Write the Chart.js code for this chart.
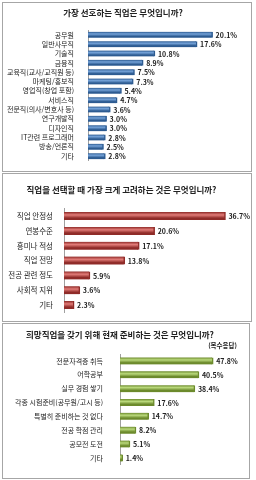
<!DOCTYPE html>
<html lang="ko">
<head>
<meta charset="UTF-8">
<title>직업 설문</title>
<script src="https://cdn.jsdelivr.net/npm/chart.js@4.4.1/dist/chart.umd.min.js"></script>
<style>
body {margin:0; background:#fff; width:256px; height:480px; position:relative; overflow:hidden;
  font-family:"Noto Sans CJK KR", sans-serif;}
.panel {position:absolute; border:1px solid #a6a6a6; background:#fff;}
.panel canvas {display:block;}
</style>
</head>
<body>

<div class="panel" style="left:2px;top:2px;width:248px;height:168px"><canvas id="chartJob" width="248" height="168"></canvas></div>
<div class="panel" style="left:2px;top:173px;width:248px;height:147px"><canvas id="chartFactor" width="248" height="147"></canvas></div>
<div class="panel" style="left:2px;top:323px;width:246px;height:154px"><canvas id="chartPrep" width="246" height="154"></canvas></div>

<script>
// data
var jobLabels = ["공무원", "일반사무직", "기술직", "금융직", "교육직(교사/교직원 등)", "마케팅/홍보직",
  "영업직(창업 포함)", "서비스직", "전문직(의사/변호사 등)", "연구개발직", "디자인직", "IT관련 프로그래머",
  "방송/언론직", "기타"];
var jobValues = [20.1, 17.6, 10.8, 8.9, 7.5, 7.3, 5.4, 4.7, 3.6, 3.0, 3.0, 2.8, 2.5, 2.8];

var factorLabels = ["직업 안정성", "연봉수준", "흥미나 적성", "직업 전망", "전공 관련 정도", "사회적 지위", "기타"];
var factorValues = [36.7, 20.6, 17.1, 13.8, 5.9, 3.6, 2.3];

var prepLabels = ["전문자격증 취득", "어학공부", "실무 경험 쌓기", "각종 시험준비(공무원/고시 등)",
  "특별히 준비하는 것 없다", "전공 학점 관리", "공모전 도전", "기타"];
var prepValues = [47.8, 40.5, 38.4, 17.6, 14.7, 8.2, 5.1, 1.4];

var FONT = "'Noto Sans CJK KR', sans-serif";

// cylinder look: vertical gradient across each bar
function cylinder(dark, light, thick) {
  return function(ctx) {
    var c = ctx.chart;
    var y = c.scales && c.scales.y;
    if (!c.chartArea || !y) return light;
    var p = y.getPixelForValue(ctx.dataIndex);
    var g = c.ctx.createLinearGradient(0, p - thick / 2, 0, p + thick / 2);
    g.addColorStop(0, dark);
    g.addColorStop(0.35, light);
    g.addColorStop(0.75, dark);
    g.addColorStop(1, dark);
    return g;
  };
}

// percent labels at the end of each bar
var valueLabels = {
  id: "valueLabels",
  afterDatasetsDraw: function(chart) {
    var ctx = chart.ctx;
    var meta = chart.getDatasetMeta(0);
    var data = chart.data.datasets[0].data;
    ctx.save();
    ctx.font = "bold 7px " + FONT;
    ctx.fillStyle = "#222";
    ctx.textAlign = "left";
    ctx.textBaseline = "middle";
    meta.data.forEach(function(bar, i) {
      ctx.fillText(data[i].toFixed(1) + "%", bar.x + 3, bar.y + 0.5);
    });
    ctx.restore();
  }
};

function makeChart(id, labels, values, o) {
  return new Chart(id, {
    type: "bar",
    data: {
      labels: labels,
      datasets: [{
        data: values,
        backgroundColor: cylinder(o.dark, o.light, o.thick),
        borderColor: o.dark,
        borderWidth: {top: 0, bottom: 0, left: 0, right: 1.5},
        borderSkipped: false,
        barThickness: o.thick
      }]
    },
    options: {
      indexAxis: "y",
      responsive: false,
      animation: false,
      layout: {padding: o.pad},
      plugins: {
        legend: {display: false},
        tooltip: {enabled: false},
        title: {
          display: true,
          text: o.title,
          color: "#222",
          font: {family: FONT, size: 8.5, weight: "bold", lineHeight: 1.2},
          padding: o.titlePad
        },
        subtitle: {
          display: !!o.sub,
          text: o.sub || "",
          align: "end",
          color: "#222",
          font: {family: FONT, size: 6.5, weight: "bold", lineHeight: 1.2},
          padding: o.subPad || 0
        }
      },
      scales: {
        x: {display: false, min: 0, max: o.max},
        y: {
          afterFit: function(s) { s.width = o.axisW; },
          grid: {display: false},
          border: {display: true, color: "#a0a0a0", width: 1},
          ticks: {
            autoSkip: false,
            color: "#222",
            padding: o.tickPad,
            font: {family: FONT, size: o.tickSize}
          }
        }
      }
    },
    plugins: [valueLabels]
  });
}

makeChart("chartJob", jobLabels, jobValues, {
  title: "가장 선호하는 직업은 무엇입니까?",
  titlePad: {top: 5, bottom: 12},
  pad: {left: 0, right: 8, top: 0, bottom: 10},
  max: 25, axisW: 85, tickPad: 6, tickSize: 7, thick: 6,
  dark: "#2d5b91", light: "#74a2d8"
});

makeChart("chartFactor", factorLabels, factorValues, {
  title: "직업을 선택할 때 가장 크게 고려하는 것은 무엇입니까?",
  titlePad: {top: 11, bottom: 13.5},
  pad: {left: 0, right: 11, top: 0, bottom: 8.5},
  max: 40, axisW: 61, tickPad: 3, tickSize: 7.5, thick: 8,
  dark: "#8f2b28", light: "#e27c78"
});

makeChart("chartPrep", prepLabels, prepValues, {
  title: "희망직업을 갖기 위해 현재 준비하는 것은 무엇입니까?",
  titlePad: {top: 6, bottom: 1.5},
  sub: "(복수응답)",
  subPad: {top: 0, bottom: 4.5},
  pad: {left: 0, right: 12, top: 0, bottom: 9},
  max: 60, axisW: 117, tickPad: 9, tickSize: 7, thick: 7,
  dark: "#6c8a2c", light: "#bad97c"
});
</script>
</body>
</html>
